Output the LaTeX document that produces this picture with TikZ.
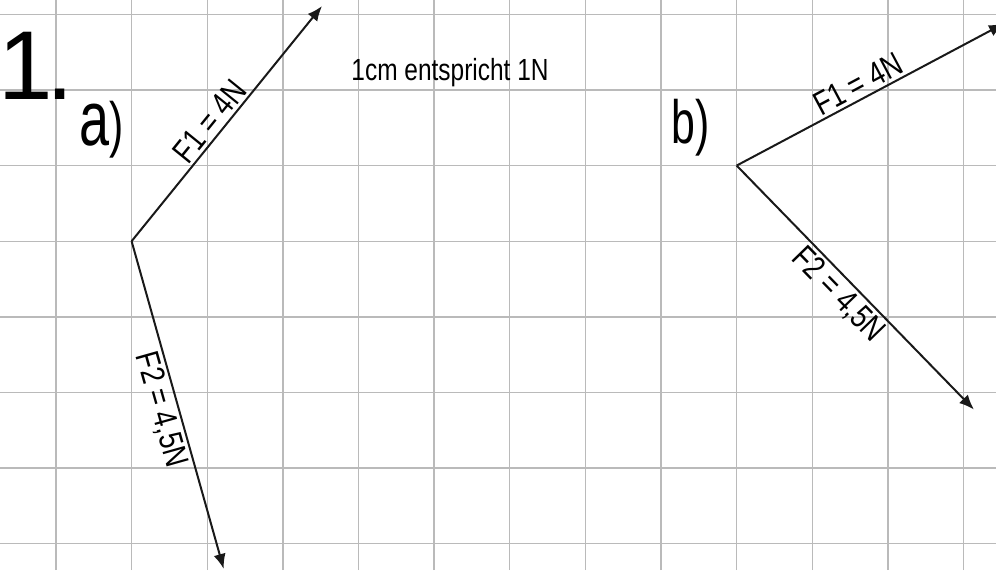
\documentclass[tikz,border=0pt]{standalone}
\usepackage{fontspec}
\setmainfont{Liberation Sans}[FakeStretch=0.8]
\newfontfamily\etroite{Liberation Sans}[FakeStretch=0.7]
\newfontfamily\droite{Liberation Sans}
\usetikzlibrary{arrows.meta}
\tikzstyle{grille} = [draw=black!27, line width=0.5pt]
\tikzstyle{force} = [line width=0.75pt, draw=black!90,
-{Latex[length=5.6pt,width=4.6pt]}]
\tikzstyle{etiquette} = [font=\fontsize{12.5}{14}\selectfont,
sloped, inner sep=1pt]

\begin{document}
\begin{tikzpicture}

% Cadre de l'image
\useasboundingbox (-0.740,-0.349) rectangle (12.429,7.189);

% Quadrillage (1 carreau = 1cm)
\draw[grille] (-0.740,-0.349) grid (12.429,7.189);

% Titres
\node[anchor=base west, inner sep=0pt, font=\droite\fontsize{36.8}{40}\selectfont] (titre) at (-0.773,5.867) {1\kern-0.08cm.};
\node[anchor=base west, inner sep=0pt, font=\etroite] (a) at (0.30,5.265) {{\fontsize{29}{30}\selectfont a}{\fontsize{23}{24}\selectfont )}};
\node[anchor=base west, inner sep=0pt, font=\etroite\fontsize{23}{24}\selectfont] (b) at (8.13,5.294) {b)};
\node[anchor=base west, inner sep=0pt, font=\fontsize{11.5}{13}\selectfont] (echelle) at (3.90,6.122) {1cm entspricht 1N};

% Forces a)
\coordinate (oA) at (1,4); % point d'application
\coordinate (aF1) at ([shift={(51:4)}]oA);
\coordinate (aF2) at ([shift={(-74.3:4.5)}]oA);
\draw[force] (oA) -- (aF1) node[etiquette, above, pos=0.47] (laF1) {F1 = 4N};
\draw[force] (oA) -- (aF2) node[etiquette, below, pos=0.5] (laF2) {F2 = 4,5N};

% Forces b)
\coordinate (oB) at (9,5); % point d'application
\coordinate (bF1) at ([shift={(28:4)}]oB);
\coordinate (bF2) at ([shift={(-45.8:4.5)}]oB);
\draw[force] (oB) -- (bF1) node[etiquette, above, pos=0.48] (lbF1) {F1 = 4N};
\draw[force] (oB) -- (bF2) node[etiquette, below, pos=0.48] (lbF2) {F2 = 4,5N};

\end{tikzpicture}
\end{document}
